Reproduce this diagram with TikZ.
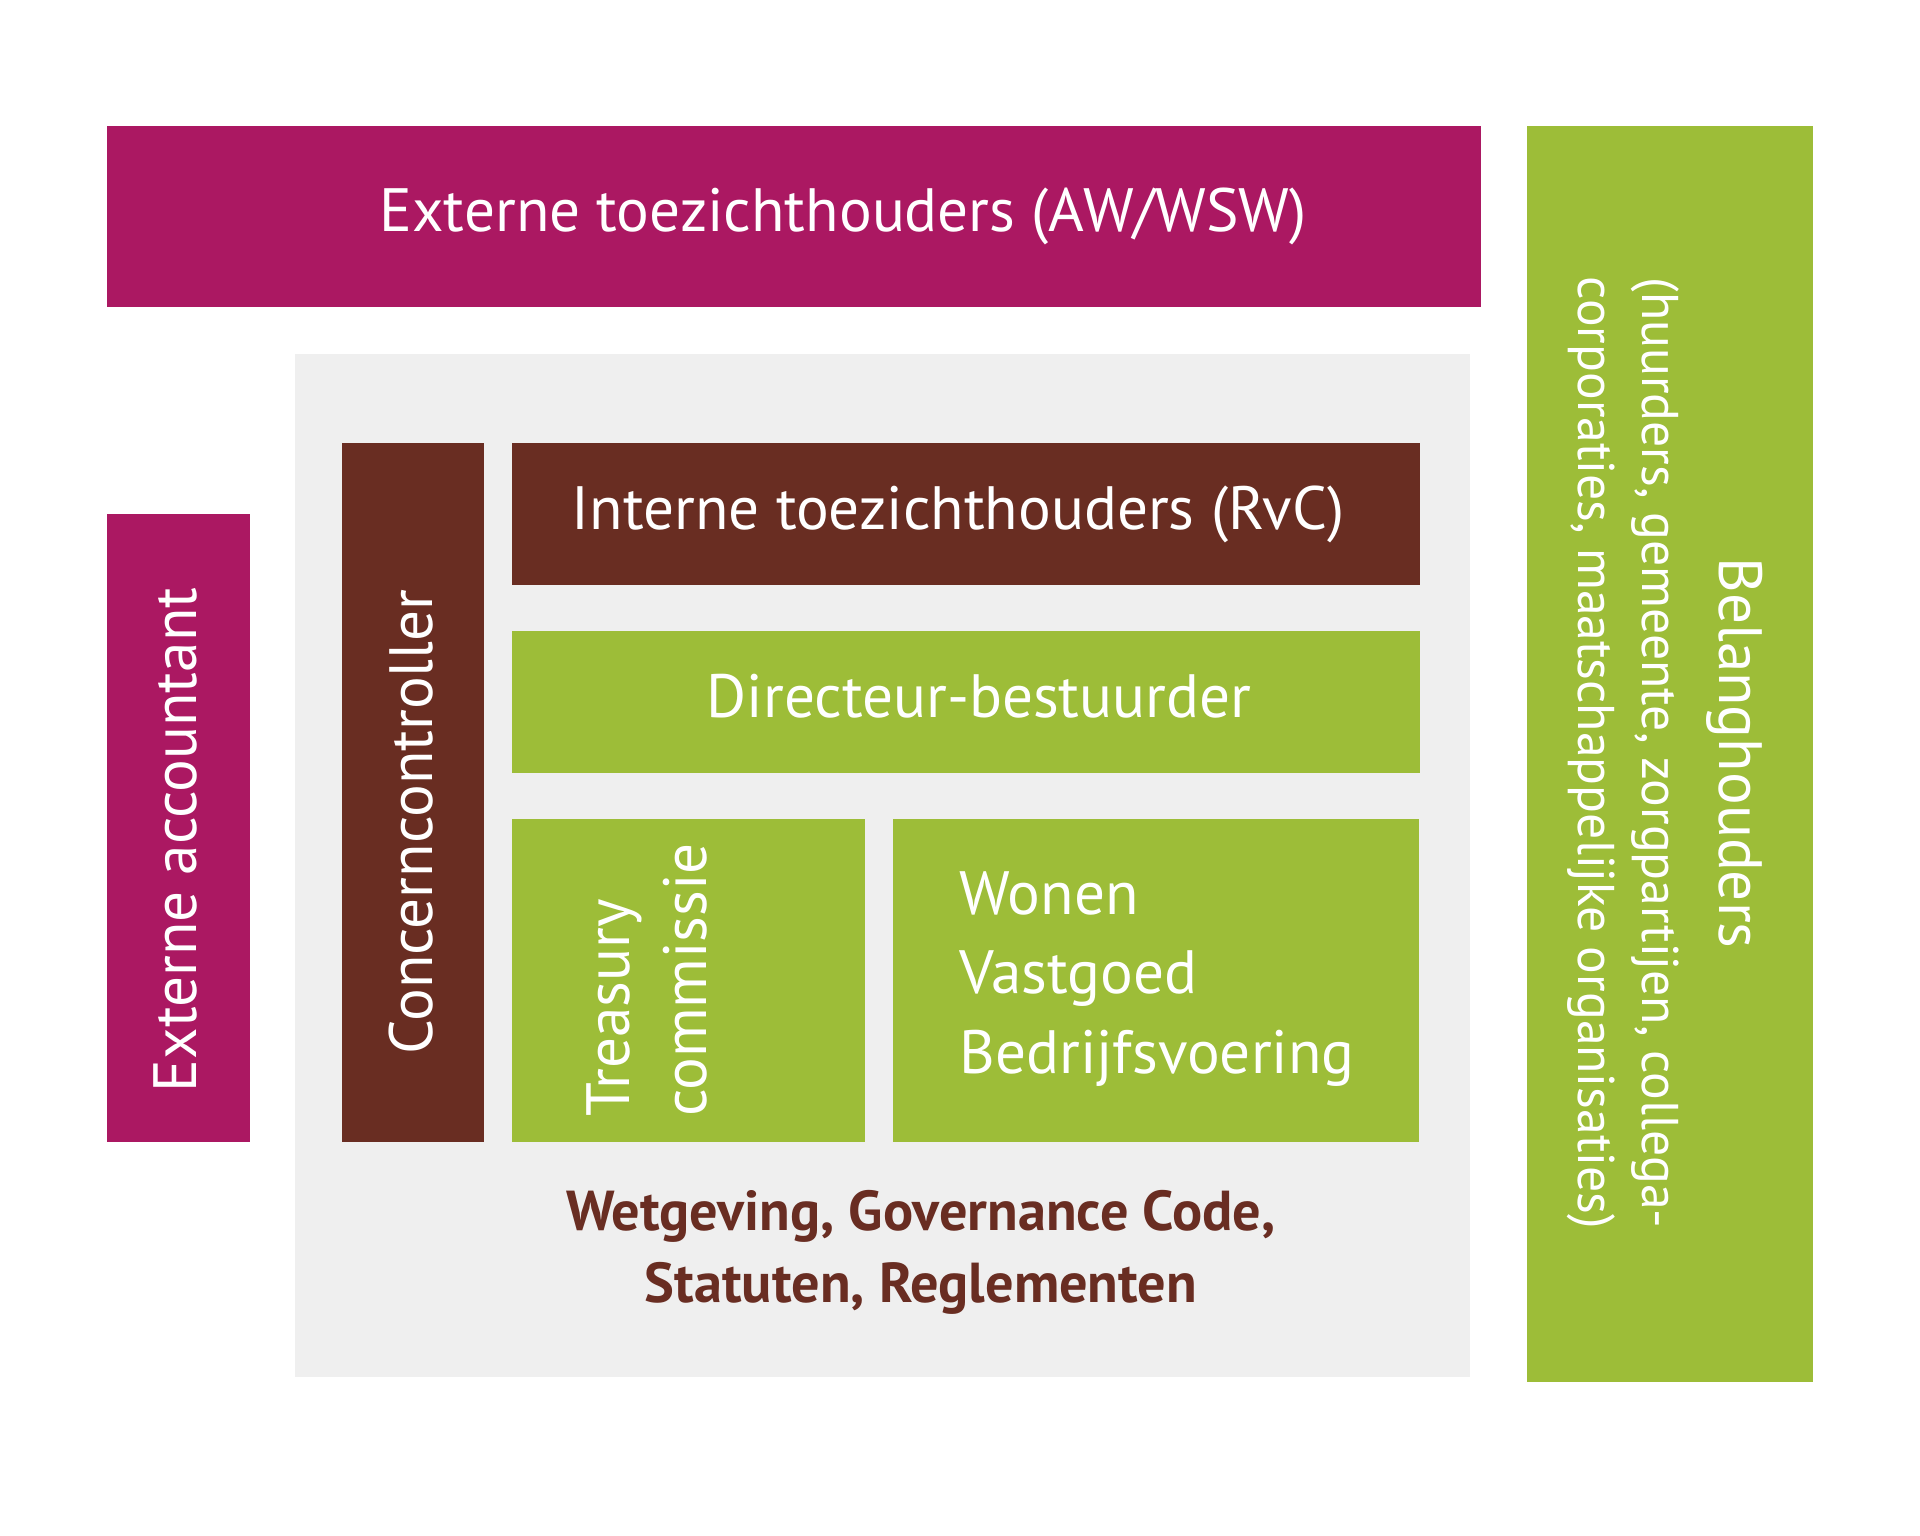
\documentclass[tikz,border=0pt]{standalone}
\usepackage{fontspec}
\setmainfont{PT Sans}
\usetikzlibrary{positioning}
\definecolor{paars}{HTML}{AB1862}
\definecolor{groen}{HTML}{9DBD38}
\definecolor{bruin}{HTML}{692D22}
\definecolor{grijs}{HTML}{EFEFEF}

\begin{document}
\begin{tikzpicture}[x=0.01cm,y=-0.01cm,
    blok/.style={rectangle,inner sep=0pt,outer sep=0pt,anchor=north west},
    paarsblok/.style={blok,fill=paars},
    groenblok/.style={blok,fill=groen},
    bruinblok/.style={blok,fill=bruin},
    witteletters/.style={text=white,inner sep=0pt,font=\fontsize{17.4}{22}\selectfont},]
  \useasboundingbox (0,0) rectangle (1920,1536);
%% Achtergrond
  \node [blok,fill=grijs,minimum width=11.74cm,minimum height=10.22cm] (kader) at (295,354) {};
%% Buitenste blokken
  \node [paarsblok,minimum width=13.73cm,minimum height=1.81cm] (extern) at (107,126) {};
  \node [groenblok,minimum width=2.86cm,minimum height=12.55cm] (belang) at (1527,126) {};
  \node [paarsblok,minimum width=1.43cm,minimum height=6.28cm] (accountant) at (107,514) {};
%% Binnenste blokken
  \node [bruinblok,minimum width=1.42cm,minimum height=6.99cm] (controller) at (342,443) {};
  \node [bruinblok,minimum width=9.07cm,minimum height=1.42cm] (rvc) at (512,443) {};
  \node [groenblok,minimum width=9.07cm,minimum height=1.42cm] (directeur) at (512,631) {};
  \node [groenblok,minimum width=3.53cm,minimum height=3.23cm] (treasury) at (512,819) {};
  \node [groenblok,minimum width=5.26cm,minimum height=3.23cm] (wonen) at (893,819) {};
%% Teksten
  \node [witteletters] (externtekst) at (843,216) {Externe toezichthouders (AW/WSW)};
  \node [witteletters] (rvctekst) at (958,514) {Interne toezichthouders (RvC)};
  \node [witteletters] (directeurtekst) at (979,696) {Directeur-bestuurder};
  \node [witteletters,rotate=90] (controllertekst) at (411,822) {Concerncontroller};
  \node [witteletters,rotate=90] (accountanttekst) at (175,840) {Externe accountant};
  \node [witteletters,rotate=90,align=left] (treasurytekst) at (647,980) {Treasury\\commissie};
  \node [witteletters,align=left,anchor=west,font=\fontsize{17.4}{22.6}\selectfont] (wonentekst) at (959,979) {Wonen\\Vastgoed\\Bedrijfsvoering};
  \node [witteletters,rotate=-90,align=center,font=\fontsize{14.7}{18}\selectfont] (belangtekst) at (1665,753)
    {{\fontsize{17.4}{22}\selectfont Belanghouders}\\[4pt](huurders, gemeente, zorgpartijen, collega-\\corporaties, maatschappelijke organisaties)};
  \node [text=bruin,align=center,font=\bfseries\fontsize{16}{20.5}\selectfont] (regels) at (921,1252)
    {Wetgeving, Governance Code,\\Statuten, Reglementen};
\end{tikzpicture}
\end{document}
